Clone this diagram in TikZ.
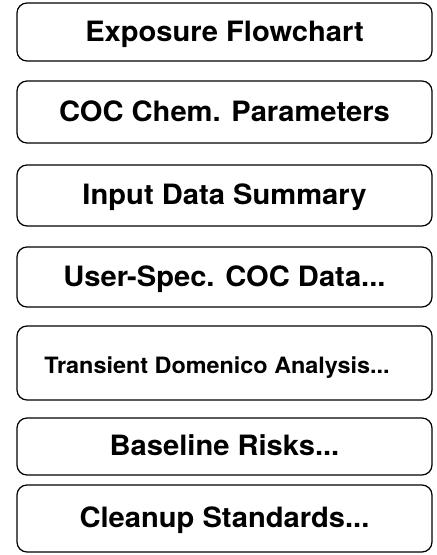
\documentclass[tikz,border=0pt]{standalone}
\usepackage{fontspec}
\setmainfont{TeX Gyre Heros}[FakeStretch=1.04]
\begin{document}
\begin{tikzpicture}[x=1pt,y=-1pt,
  menubox/.style={draw=black,line width=1.25pt,rounded corners=10pt,
    minimum width=415pt,inner sep=0pt,font=\bfseries\fontsize{28}{30}\selectfont,
    text height=22pt,text depth=4pt},
  smalltext/.style={inner sep=0pt,font=\bfseries\fontsize{22.5}{24}\selectfont,text height=19pt,text depth=3pt}]
\useasboundingbox (0,0) rectangle (437,555);
\node[menubox,minimum height=58pt] (b1) at (224.5,32)  {Exposure Flowchart};
\node[menubox,minimum height=62pt] (b2) at (224.5,112) {COC Chem. Parameters};
\node[menubox,minimum height=61pt] (b3) at (224.5,195.5) {Input Data Summary};
\node[menubox,minimum height=60pt] (b4) at (224.5,277) {User-Spec. COC Data...};
\node[menubox,minimum height=74pt] (b5) at (224.5,363) {};
\node[smalltext] (t5) at (217,365) {Transient Domenico Analysis...};
\node[menubox,minimum height=57pt] (b6) at (224.5,446.5) {Baseline Risks...};
\node[menubox,minimum height=67pt] (b7) at (224.5,518.5) {Cleanup Standards...};
\end{tikzpicture}
\end{document}
